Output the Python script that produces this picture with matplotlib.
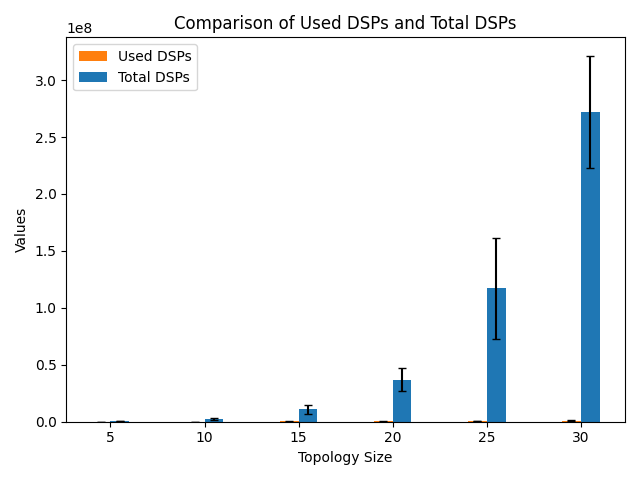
import numpy as np
import matplotlib
matplotlib.use("Agg")
import matplotlib.pyplot as plt

# topology sizes and DSP counts
topology_sizes = [5, 10, 15, 20, 25, 30]
used_dsps = [5.0e4, 1.0e5, 2.0e5, 4.0e5, 6.0e5, 7.0e5]
used_err = [3.0e4, 6.0e4, 1.0e5, 2.5e5, 3.5e5, 4.0e5]
total_dsps = [6.0e5, 2.5e6, 1.1e7, 3.7e7, 1.17e8, 2.72e8]
total_err = [3.0e5, 1.0e6, 4.0e6, 1.0e7, 4.45e7, 4.95e7]

x = np.array(topology_sizes)
width = 1.0

fig, ax = plt.subplots(figsize=(6.4, 4.8))
ax.bar(x - width / 2, used_dsps, width, yerr=used_err, capsize=3,
       color="tab:orange", label="Used DSPs")
ax.bar(x + width / 2, total_dsps, width, yerr=total_err, capsize=3,
       color="tab:blue", label="Total DSPs")
ax.set_title("Comparison of Used DSPs and Total DSPs")
ax.set_xlabel("Topology Size")
ax.set_ylabel("Values")
ax.set_xticks(x)
ax.legend(loc="upper left")
fig.tight_layout()
fig.savefig("out.png", dpi=100)
